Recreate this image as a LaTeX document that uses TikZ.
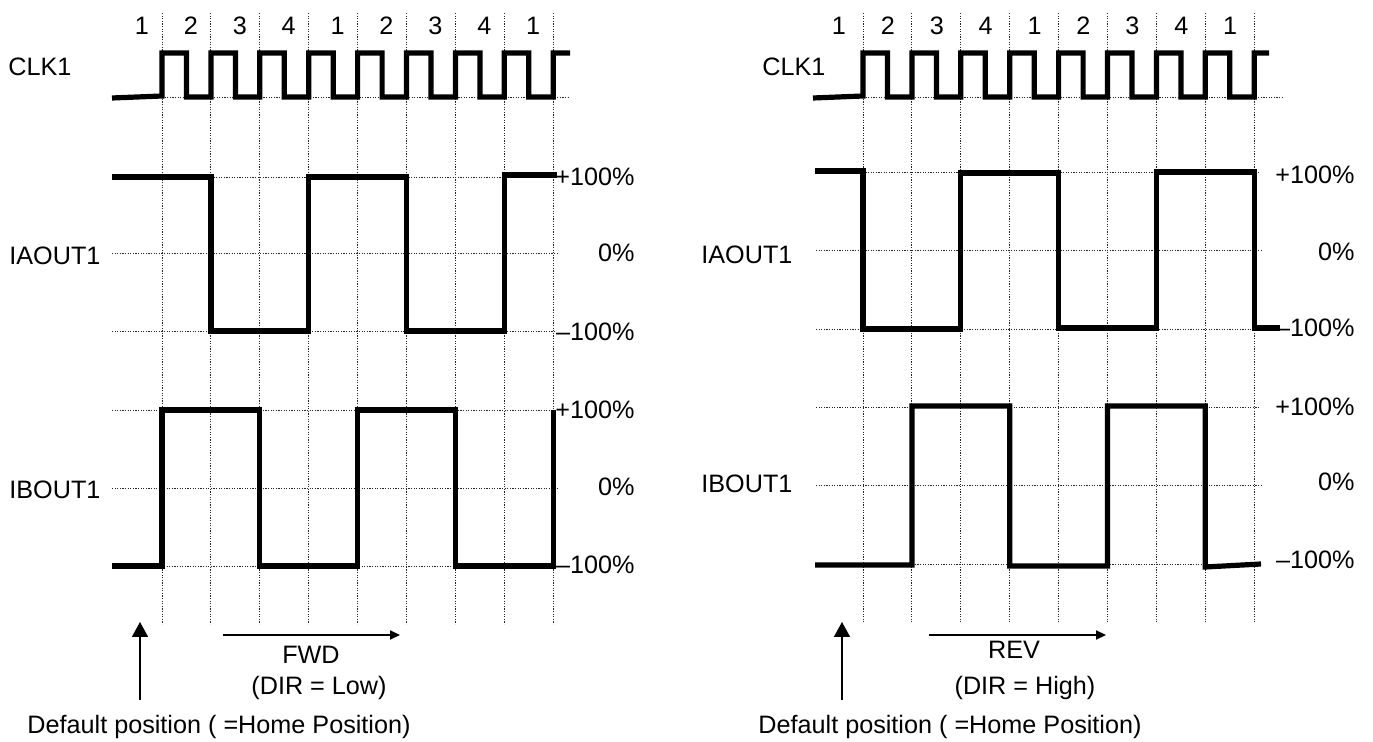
\documentclass[tikz,border=0pt]{standalone}
\usepackage{fontspec}
\setmainfont{Liberation Sans}
\usetikzlibrary{arrows.meta}

\begin{document}
\begin{tikzpicture}[x=0.5pt,y=-0.5pt,
  every node/.style={font=\fontsize{12.6}{14}\selectfont,inner sep=0pt},
  wave/.style={line width=2.6pt,line join=miter},
  guide/.style={line width=0.45pt,black!85,dash pattern=on 0.6pt off 0.7pt},
  dirarrow/.style={line width=0.6pt,-{Triangle[length=5pt,width=4.6pt]}},
  homearrow/.style={line width=0.8pt,-{Triangle[length=7.5pt,width=8pt]}}]
  \useasboundingbox (0,0) rectangle (1373,742);

  \foreach \k in {0,...,8}
    \draw[guide] ({162+48.9*\k},13) -- ({162+48.9*\k},624);
  \foreach \y/\a/\b in {97/162/570,177/112/556,253/112/558,331/112/556,
                        410/112/553,488/112/558,566/112/553}
    \draw[guide] (\a,\y) -- (\b,\y);
  \foreach \n [count=\k from 0] in {1,2,3,4,1,2,3,4,1}
    \node (numL\k) at ({142+48.9*\k},26) {\n};

  \node[anchor=west] (clkL) at (8,67) {CLK1};
  \node[anchor=west] (iaL) at (9,256) {IAOUT1};
  \node[anchor=west] (ibL) at (9,490) {IBOUT1};
  \node[anchor=east] (iaLp) at (635,177) {+100\%};
  \node[anchor=east] (iaLz) at (635,253) {0\%};
  \node[anchor=east] (iaLm) at (635,332) {–100\%};
  \node[anchor=east] (ibLp) at (635,410) {+100\%};
  \node[anchor=east] (ibLz) at (635,487) {0\%};
  \node[anchor=east] (ibLm) at (635,565) {–100\%};

  \draw[wave] (112,98) -- (162,96)
    \foreach \k in {0,...,7} {
      -- ({162+48.9*\k},53) -- ({186.5+48.9*\k},53)
      -- ({186.5+48.9*\k},97) -- ({210.9+48.9*\k},97) }
    -- (553.2,53) -- (570,53);
  \draw[wave] (112,177) -- (210.9,177) -- (210.9,331) -- (308.7,331)
    -- (308.7,177) -- (406.5,177) -- (406.5,331) -- (504.3,331)
    -- (504.3,175) -- (557,175);
  \draw[wave] (112,566) -- (162,566) -- (162,410) -- (259.8,410)
    -- (259.8,566) -- (357.6,566) -- (357.6,410) -- (455.4,410)
    -- (455.4,566) -- (553.2,566) -- (553.2,410);

  \node (fwd) at (311,655) {FWD};
  \node (dirL) at (319,688) {(DIR = Low)};
  \node (homeL) at (219,727) {Default position ( =Home Position)};
  \coordinate (fwdA) at (223,635);
  \coordinate (fwdB) at (400,635);
  \coordinate (homeLa) at (140,700);
  \coordinate (homeLb) at (140,622);
  \draw[dirarrow] (fwdA) -- (fwdB);
  \draw[homearrow] (homeLa) -- (homeLb);

  \foreach \k in {0,...,8}
    \draw[guide] ({863+48.9*\k},13) -- ({863+48.9*\k},622);
  \foreach \y/\a/\b in {97/863/1282,172/816/1260,250/816/1261,329/816/1278,
                        407/816/1260,485/816/1261,564/816/1260}
    \draw[guide] (\a,\y) -- (\b,\y);
  \foreach \n [count=\k from 0] in {1,2,3,4,1,2,3,4,1}
    \node (numR\k) at ({839+48.9*\k},26) {\n};

  \node[anchor=west] (clkR) at (762,67) {CLK1};
  \node[anchor=west] (iaR) at (701,255) {IAOUT1};
  \node[anchor=west] (ibR) at (701,484) {IBOUT1};
  \node[anchor=east] (iaRp) at (1355,175) {+100\%};
  \node[anchor=east] (iaRz) at (1355,252) {0\%};
  \node[anchor=east] (iaRm) at (1355,328) {–100\%};
  \node[anchor=east] (ibRp) at (1355,407) {+100\%};
  \node[anchor=east] (ibRz) at (1355,482) {0\%};
  \node[anchor=east] (ibRm) at (1355,560) {–100\%};

  \draw[wave] (813,98) -- (863,96)
    \foreach \k in {0,...,7} {
      -- ({863+48.9*\k},53) -- ({887.5+48.9*\k},53)
      -- ({887.5+48.9*\k},97) -- ({911.9+48.9*\k},97) }
    -- (1254.2,53) -- (1269,53);
  \draw[wave] (815,171) -- (863,171) -- (863,329) -- (960.8,329)
    -- (960.8,173) -- (1058.6,173) -- (1058.6,328) -- (1156.4,328)
    -- (1156.4,172) -- (1254.2,172) -- (1254.2,328) -- (1280,328);
  \draw[wave] (815,565) -- (911.9,565) -- (911.9,406) -- (1009.7,406)
    -- (1009.7,566) -- (1107.5,566) -- (1107.5,406) -- (1205.3,406)
    -- (1205.3,567) -- (1261,564);

  \node (rev) at (1014,650) {REV};
  \node (dirR) at (1025,688) {(DIR = High)};
  \node (homeR) at (950,727) {Default position ( =Home Position)};
  \coordinate (revA) at (929,635);
  \coordinate (revB) at (1106,635);
  \coordinate (homeRa) at (842,700);
  \coordinate (homeRb) at (842,622);
  \draw[dirarrow] (revA) -- (revB);
  \draw[homearrow] (homeRa) -- (homeRb);
\end{tikzpicture}
\end{document}
